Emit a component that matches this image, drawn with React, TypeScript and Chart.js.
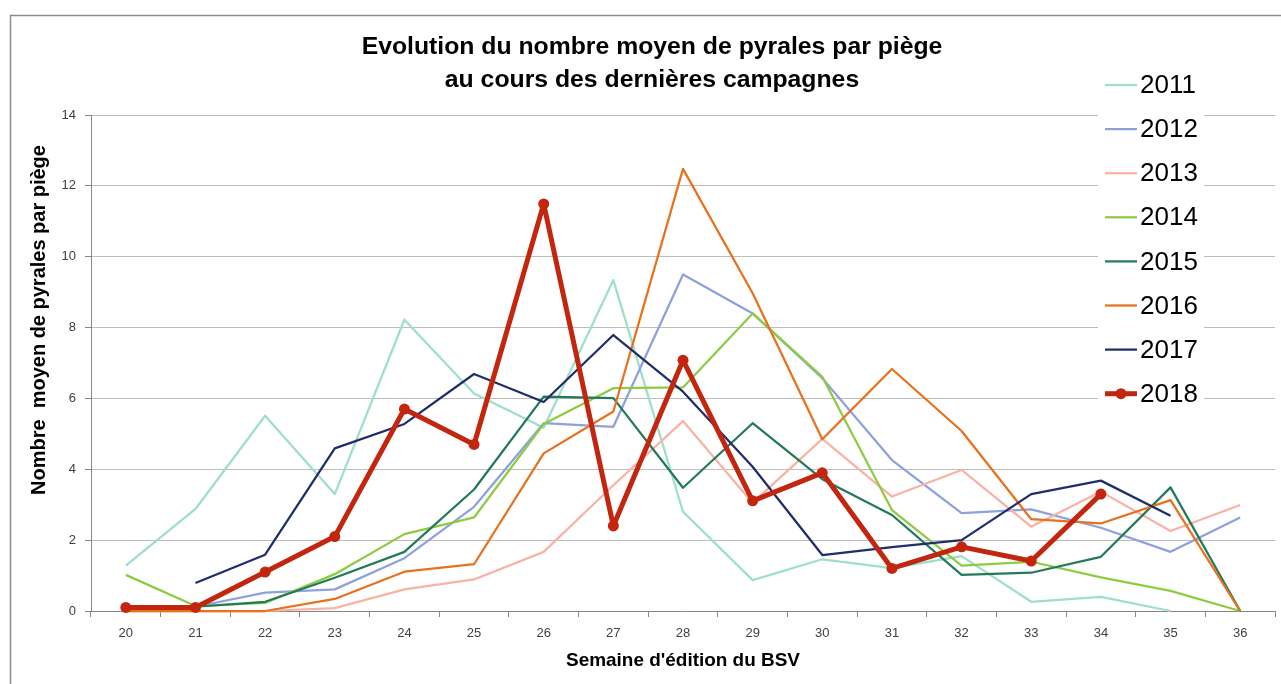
import { useEffect, useRef } from 'react';
import { Chart, registerables } from 'chart.js';

Chart.register(...registerables);

const weeks = ['20', '21', '22', '23', '24', '25', '26', '27', '28', '29', '30', '31', '32', '33', '34', '35', '36'];

const s2011 = [1.28, 2.88, 5.51, 3.3, 8.22, 6.14, 5.17, 9.34, 2.8, 0.87, 1.46, 1.21, 1.55, 0.26, 0.4, 0, null];
const s2012 = [0.05, 0.12, 0.52, 0.61, 1.49, 2.94, 5.3, 5.2, 9.5, 8.4, 6.57, 4.26, 2.76, 2.87, 2.35, 1.67, 2.64];
const s2013 = [0, 0, 0, 0.08, 0.61, 0.89, 1.67, 3.55, 5.36, 3.05, 4.86, 3.23, 3.98, 2.38, 3.37, 2.26, 2.99];
const s2014 = [1.02, 0.14, 0.23, 1.04, 2.17, 2.64, 5.28, 6.29, 6.31, 8.4, 6.61, 2.85, 1.28, 1.39, 0.95, 0.57, 0];
const s2015 = [0.08, 0.12, 0.26, 0.94, 1.67, 3.43, 6.05, 6.01, 3.48, 5.3, 3.72, 2.71, 1.02, 1.08, 1.53, 3.49, 0];
const s2016 = [0, 0, 0, 0.34, 1.11, 1.32, 4.45, 5.63, 12.48, 8.97, 4.85, 6.83, 5.08, 2.59, 2.47, 3.13, 0];
const s2017 = [null, 0.79, 1.59, 4.59, 5.28, 6.69, 5.9, 7.79, 6.19, 4.07, 1.58, 1.8, 2.0, 3.3, 3.68, 2.69, null];
const s2018 = [0.1, 0.1, 1.1, 2.1, 5.7, 4.7, 11.49, 2.4, 7.08, 3.11, 3.9, 1.2, 1.81, 1.41, 3.3, null, null];

const seriesLabels = ['2011', '2012', '2013', '2014', '2015', '2016', '2017', '2018'];
const seriesData = [s2011, s2012, s2013, s2014, s2015, s2016, s2017, s2018];
const seriesColors = ['#9DDFCA', '#8FA1DD', '#F9B2A5', '#8DCB40', '#237A5B', '#E8711E', '#1F2E6B', '#C3260F'];

const titleLines = ['Evolution du nombre moyen de pyrales par piège', 'au cours des dernières campagnes'];
const xTitle = "Semaine d'édition du BSV";
const yTitle = 'Nombre  moyen de pyrales par piège';

const yTicksMin = 0;
const yTicksMax = 14;
const yTicksStep = 2;

const NARROW = '"Liberation Sans Narrow", "Liberation Sans", sans-serif';
const SANS = '"Liberation Sans", Arial, sans-serif';

function fitSize(ctx: CanvasRenderingContext2D, text: string, family: string, weight: string, target: number) {
  ctx.font = `${weight} 20px ${family}`;
  const w = ctx.measureText(text).width;
  return (20 * target) / w;
}

const decorPlugin = {
  id: 'decor',
  beforeDraw(chart: any) {
    const ctx = chart.ctx as CanvasRenderingContext2D;
    ctx.save();
    ctx.fillStyle = '#ffffff';
    ctx.fillRect(0, 0, chart.width, chart.height);
    ctx.strokeStyle = '#8c8c8c';
    ctx.lineWidth = 1.5;
    ctx.beginPath();
    ctx.moveTo(10.5, chart.height);
    ctx.lineTo(10.5, 15.5);
    ctx.lineTo(chart.width, 15.5);
    ctx.stroke();
    ctx.restore();
  },
  afterDraw(chart: any) {
    const ctx = chart.ctx as CanvasRenderingContext2D;
    ctx.save();
    // Title
    const ts = fitSize(ctx, titleLines[0], NARROW, 'bold', 581);
    ctx.font = `bold ${ts}px ${NARROW}`;
    ctx.fillStyle = '#000';
    ctx.textAlign = 'center';
    ctx.textBaseline = 'middle';
    ctx.fillText(titleLines[0], 652, 47);
    ctx.fillText(titleLines[1], 652, 80);

    // X title
    const xs = fitSize(ctx, xTitle, NARROW, 'bold', 234);
    ctx.font = `bold ${xs}px ${NARROW}`;
    ctx.fillText(xTitle, 683, 661);

    // Y title
    const ys = fitSize(ctx, yTitle, NARROW, 'bold', 350);
    ctx.font = `bold ${ys}px ${NARROW}`;
    ctx.save();
    ctx.translate(39, 320);
    ctx.rotate(-Math.PI / 2);
    ctx.fillText(yTitle, 0, 0);
    ctx.restore();

    // Legend
    ctx.fillStyle = '#ffffff';
    ctx.fillRect(1098, 62, 106, 352);
    ctx.font = `26px ${SANS}`;
    ctx.textAlign = 'left';
    chart.data.datasets.forEach((ds: any, i: number) => {
      const cy = 85 + i * 44.1;
      ctx.strokeStyle = ds.borderColor;
      ctx.lineWidth = ds.borderWidth;
      ctx.beginPath();
      ctx.moveTo(1105, cy);
      ctx.lineTo(1137, cy);
      ctx.stroke();
      if (ds.pointRadius > 0) {
        ctx.fillStyle = ds.borderColor;
        ctx.beginPath();
        ctx.arc(1121, cy, ds.pointRadius, 0, Math.PI * 2);
        ctx.fill();
      }
      ctx.fillStyle = '#000';
      ctx.fillText(ds.label, 1140, cy + 1);
    });
    ctx.restore();
  },
};

export default function App() {
  const ref = useRef<HTMLCanvasElement>(null);
  useEffect(() => {
    const datasets = seriesLabels.map((label, i) => {
      const is2018 = label === '2018';
      return {
        label,
        data: seriesData[i],
        borderColor: seriesColors[i],
        backgroundColor: seriesColors[i],
        borderWidth: is2018 ? 5 : 2.25,
        pointRadius: is2018 ? 5.5 : 0,
        pointHoverRadius: is2018 ? 5.5 : 0,
        pointBorderWidth: 0,
        pointBackgroundColor: seriesColors[i],
        tension: 0,
        spanGaps: false,
        clip: false,
        order: seriesLabels.length - 1 - i,
        borderJoinStyle: 'round',
      };
    });
    const chart = new Chart(ref.current!, {
      type: 'line',
      data: { labels: weeks, datasets: datasets as any },
      plugins: [decorPlugin],
      options: {
        responsive: false,
        animation: false,
        layout: { padding: { left: 0, top: 115, right: 6, bottom: 0 } },
        plugins: {
          legend: { display: false },
          title: { display: false },
          tooltip: { enabled: false },
        },
        scales: {
          x: {
            type: 'category',
            offset: true,
            grid: {
              display: true,
              drawOnChartArea: false,
              drawTicks: true,
              tickLength: 6,
              offset: true,
              color: '#868686',
            },
            border: { display: true, color: '#868686', width: 1 },
            ticks: { padding: 9, color: '#404040', font: { family: SANS, size: 13 }, maxRotation: 0, autoSkip: false },
            afterFit: (s: any) => {
              s.height = 73;
            },
          },
          y: {
            min: yTicksMin,
            max: yTicksMax,
            ticks: { stepSize: yTicksStep, padding: 9, color: '#404040', font: { family: SANS, size: 13 } },
            grid: { color: '#bdbdbd', tickColor: '#868686', tickLength: 6, lineWidth: 1 },
            border: { display: true, color: '#868686', width: 1 },
            afterFit: (s: any) => {
              s.width = 91;
            },
          },
        },
      } as any,
    });
    return () => chart.destroy();
  }, []);
  return (
    <div style={{ position: 'fixed', left: 0, top: 0, width: 1281, height: 684, background: '#fff' }}>
      <canvas ref={ref} width={1281} height={684} style={{ display: 'block', width: 1281, height: 684 }} />
    </div>
  );
}
